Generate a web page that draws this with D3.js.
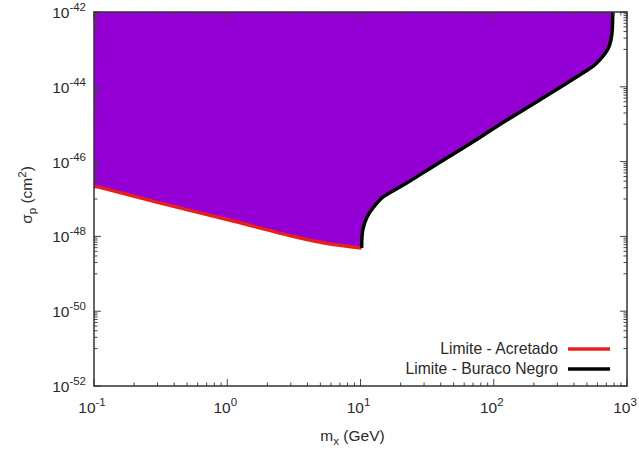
<!DOCTYPE html>
<html>
<head>
<meta charset="utf-8">
<script src="https://cdn.jsdelivr.net/npm/d3@7"></script>
<style>
  body { margin: 0; background: #fff; }
  text { font-family: "Liberation Sans", Arial, sans-serif; fill: #2a2a2a; }
</style>
</head>
<body>
<svg id="chart" width="639" height="450"></svg>
<script>
// mass (GeV) and cross-section (cm^2)
var accretedMass = [0.1, 0.316, 1.0, 3.16, 5.62, 10.2];
var accretedSigma = [2.24e-47, 7.76e-48, 2.82e-48, 9.93e-49, 6.46e-49, 4.9e-49];

var blackHoleMass = [10.2, 10.4, 11.2, 12.4, 14.7, 17.5, 23.5, 33.2, 78.7, 111, 187, 313, 466, 560, 630, 700, 740, 769, 782];
var blackHoleSigma = [4.9e-49, 1.48e-48, 3.31e-48, 5.75e-48, 1.12e-47, 1.64e-47, 3.03e-47, 6.54e-47, 4.41e-46, 9.82e-46, 3.07e-45, 9.57e-45, 2.34e-44, 3.6e-44, 5.4e-44, 8.7e-44, 1.3e-43, 2.45e-43, 1e-42];

var xTickExp = [-1, 0, 1, 2, 3];
var yTickExp = [-52, -50, -48, -46, -44, -42];
var legendLabels = ["Limite - Acretado", "Limite - Buraco Negro"];

var margin = { top: 12, right: 12, bottom: 64, left: 94 };
var width = 639 - margin.left - margin.right;
var height = 450 - margin.top - margin.bottom;

var svg = d3.select('#chart');
var g = svg.append('g').attr('transform', 'translate(' + margin.left + ',' + margin.top + ')');

var x = d3.scaleLog().domain([1e-1, 1e3]).range([0, width]);
var y = d3.scaleLog().domain([1e-52, 1e-42]).range([height, 0]);

var accreted = accretedMass.map(function (m, i) { return [m, accretedSigma[i]]; });
var blackHole = blackHoleMass.map(function (m, i) { return [m, blackHoleSigma[i]]; });

var line = d3.line()
    .x(function (d) { return x(d[0]); })
    .y(function (d) { return y(d[1]); })
    .curve(d3.curveCatmullRom.alpha(0.5));

// excluded region: top of the plot down to the two limits
var last = blackHole[blackHole.length - 1];
g.append('path')
    .attr('d', line(accreted) + 'L' + line(blackHole).slice(1) + 'L' + x(last[0]) + ',' + y(1e-42) + 'L' + x(accreted[0][0]) + ',' + y(1e-42) + 'Z')
    .attr('fill', '#9400d3');

g.append('path')
    .attr('d', line(accreted))
    .attr('fill', 'none')
    .attr('stroke', '#e8201c')
    .attr('stroke-width', 3.5);

g.append('path')
    .attr('d', line(blackHole))
    .attr('fill', 'none')
    .attr('stroke', '#000')
    .attr('stroke-width', 3.5);

// ticks (gnuplot style, pointing inward on all sides)
var tickColor = '#444';
var xMajor = xTickExp.map(function (e) { return Math.pow(10, e); });
var xMinor = [];
xTickExp.slice(0, -1).forEach(function (e) {
    for (var k = 2; k <= 9; k++) xMinor.push(k * Math.pow(10, e));
});
var yMajor = yTickExp.map(function (e) { return Math.pow(10, e); });
var yMinor = [];
yTickExp.slice(0, -1).forEach(function (e) {
    for (var k = 1; k <= 9; k++) yMinor.push(k * Math.pow(10, e + 1));
});

var ticks = g.append('g').attr('stroke', tickColor).attr('stroke-width', 1);
function vTicks(vals, len) {
    vals.forEach(function (v) {
        ticks.append('line').attr('x1', x(v)).attr('x2', x(v)).attr('y1', height).attr('y2', height - len);
        ticks.append('line').attr('x1', x(v)).attr('x2', x(v)).attr('y1', 0).attr('y2', len);
    });
}
function hTicks(vals, len) {
    vals.forEach(function (v) {
        ticks.append('line').attr('y1', y(v)).attr('y2', y(v)).attr('x1', 0).attr('x2', len);
        ticks.append('line').attr('y1', y(v)).attr('y2', y(v)).attr('x1', width).attr('x2', width - len);
    });
}
vTicks(xMajor, 7);
vTicks(xMinor, 3.5);
hTicks(yMajor, 7);
hTicks(yMinor, 3.5);

g.append('rect')
    .attr('width', width).attr('height', height)
    .attr('fill', 'none').attr('stroke', '#333').attr('stroke-width', 1.5);

// tick labels
function powLabel(sel, e) {
    sel.append('tspan').text('10');
    sel.append('tspan').attr('dy', -7).attr('font-size', 11.5).text(e);
}
xTickExp.forEach(function (e) {
    var t = g.append('text')
        .attr('x', x(Math.pow(10, e)) - 2)
        .attr('y', height + 27)
        .attr('font-size', 15.5)
        .attr('text-anchor', 'middle');
    powLabel(t, e);
});
yTickExp.forEach(function (e) {
    var t = g.append('text')
        .attr('x', -8)
        .attr('y', y(Math.pow(10, e)) + 6)
        .attr('font-size', 15.5)
        .attr('text-anchor', 'end');
    powLabel(t, e);
});

// axis titles
var xl = svg.append('text')
    .attr('x', margin.left + width / 2 - 8)
    .attr('y', 441)
    .attr('font-size', 15.5)
    .attr('text-anchor', 'middle');
xl.append('tspan').text('m');
xl.append('tspan').attr('dy', 4).attr('font-size', 11.5).text('x');
xl.append('tspan').attr('dy', -4).text(' (GeV)');

var yl = svg.append('text')
    .attr('transform', 'translate(32,' + (margin.top + height / 2 - 4) + ') rotate(-90)')
    .attr('font-size', 15.5)
    .attr('text-anchor', 'middle');
yl.append('tspan').text('σ');
yl.append('tspan').attr('dy', 4).attr('font-size', 11.5).text('p');
yl.append('tspan').attr('dy', -4).text(' (cm');
yl.append('tspan').attr('dy', -6).attr('font-size', 11.5).text('2');
yl.append('tspan').attr('dy', 6).text(')');

// legend
var legendColors = ['#e8201c', '#000'];
legendLabels.forEach(function (lab, i) {
    var ly = 349 + i * 20;
    svg.append('text')
        .attr('x', 558).attr('y', ly + 5)
        .attr('font-size', 15.7)
        .attr('text-anchor', 'end')
        .text(lab);
    svg.append('line')
        .attr('x1', 568).attr('x2', 610)
        .attr('y1', ly).attr('y2', ly)
        .attr('stroke', legendColors[i]).attr('stroke-width', 3.5);
});
</script>
</body>
</html>
